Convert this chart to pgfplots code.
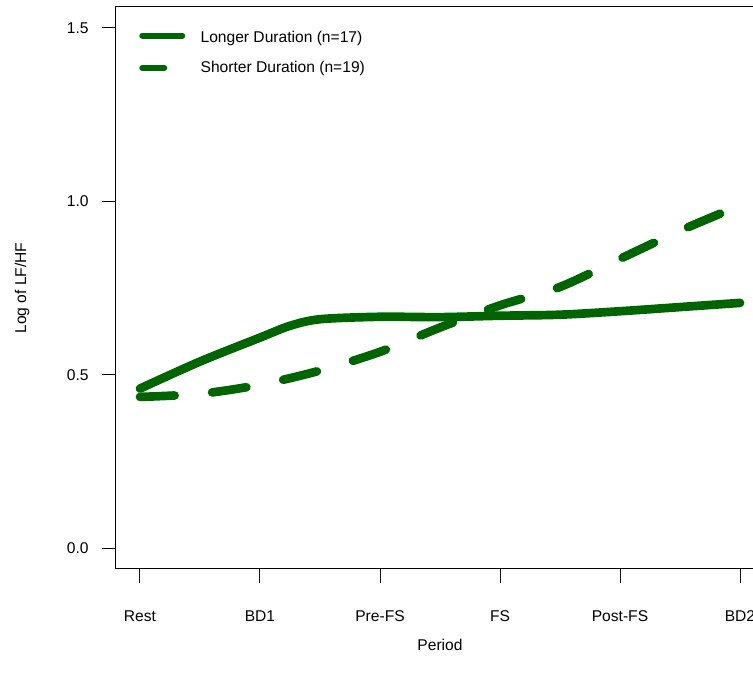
\documentclass[border=0pt]{standalone}
\usepackage{fontspec}
\setmainfont{Liberation Sans}
\usepackage{pgfplots}
\pgfplotsset{compat=1.18}
\definecolor{dkgreen}{HTML}{006400}
\begin{document}
\fontsize{11.7}{14}\selectfont
\begin{tikzpicture}
\begin{axis}[
  at={(0pt,0pt)}, anchor=south west,
  scale only axis, width=486pt, height=421.5pt,
  xmin=0.8, xmax=6.2, ymin=-0.06, ymax=1.56,
  xtick={1,2,3,4,5,6}, xticklabels={Rest,BD1,Pre-FS,FS,Post-FS,BD2},
  ytick={0,0.5,1,1.5}, yticklabels={0.0,0.5,1.0,1.5},
  tick align=outside, major tick length=10.5pt,
  tick pos=left,
  tick style={black, line width=0.75pt},
  axis line style={line width=0.75pt},
  xticklabel style={yshift=-16.5pt},
  yticklabel style={xshift=-6pt},
  xlabel={Period}, ylabel={Log of LF/HF},
  xlabel style={at={(axis description cs:0.5,-0.1352)}, anchor=center},
  ylabel style={at={(axis description cs:-0.1451,0.5)}, anchor=center, rotate=0},
  legend style={at={(axis description cs:0.0355,0.957)}, anchor=north west,
    draw=none, fill=none, inner sep=0pt, row sep=12pt, column sep=11.5pt,
    nodes={inner sep=0pt}},
  legend cell align=left,
]
\addplot[dkgreen, line width=6.5pt, line cap=round, line join=round, smooth, tension=0.5,
  legend image code/.code={\draw[dkgreen, solid, line width=4.5pt, line cap=round] (0pt,2pt) -- (30pt,2pt);}]
  coordinates {
  (1,0.460) (1.5,0.538) (2,0.607) (2.25,0.641) (2.5,0.660) (3,0.667)
  (3.5,0.666) (4,0.670) (4.5,0.673) (5,0.683) (5.5,0.695) (6,0.707)};
\addlegendentry{Longer Duration (n=17)}
\addplot[dkgreen, line width=6.5pt, line cap=round, line join=round, smooth, tension=0.5,
  dash pattern=on 26pt off 28.2pt,
  legend image code/.code={\path[draw=none] (0pt,0pt) -- (30pt,0pt); \draw[dkgreen, solid, line width=4.5pt, line cap=round] (0pt,0pt) -- (16.5pt,0pt);}]
  coordinates {
  (1,0.436) (1.5,0.445) (2,0.471) (2.5,0.512) (3,0.566) (3.5,0.636)
  (4,0.700) (4.5,0.753) (5,0.834) (5.5,0.915) (6,0.988)};
\addlegendentry{Shorter Duration (n=19)}
\end{axis}
\pgfresetboundingbox
\path[use as bounding box] (-87pt,-86.25pt) rectangle (477.75pt,426.75pt);
\end{tikzpicture}
\end{document}
